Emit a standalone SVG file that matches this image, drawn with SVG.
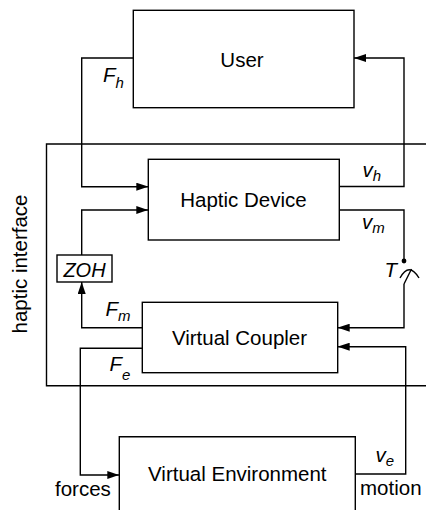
<svg xmlns="http://www.w3.org/2000/svg" width="426" height="510" viewBox="0 0 426 510">
<style>
.box{fill:none;stroke:#000;stroke-width:1.4}
.ln{fill:none;stroke:#000;stroke-width:1.4}
.t{font-family:"Liberation Sans",Arial,sans-serif;font-size:20.5px;fill:#000}
.i{font-family:"Liberation Sans",Arial,sans-serif;font-style:italic;font-size:20.5px;fill:#000}
.s{font-size:15px}
</style>
<defs>
<marker id="ah" markerUnits="userSpaceOnUse" markerWidth="12" markerHeight="8" refX="12" refY="4" orient="auto">
<path d="M0,0 L12,4 L0,8 z" fill="#000"/>
</marker>
</defs>
<rect width="426" height="510" fill="#fff"/>
<g id="haptic-interface">
<path class="box" d="M430,144 H46.5 V385.7 H430"/>
<text class="t" transform="translate(27,264) rotate(-90)" text-anchor="middle">haptic interface</text>
</g>
<g id="user">
<rect class="box" x="133.3" y="10.3" width="220.7" height="97.4"/>
<text class="t" x="242" y="66.7" text-anchor="middle">User</text>
</g>
<g id="haptic-device">
<rect class="box" x="148.3" y="159.3" width="191" height="80.7"/>
<text class="t" x="243.5" y="206.5" text-anchor="middle">Haptic Device</text>
</g>
<g id="zoh">
<rect class="box" x="57" y="255" width="55" height="27"/>
<text class="i" x="84.5" y="276.5" text-anchor="middle" style="font-size:20px">ZOH</text>
</g>
<g id="virtual-coupler">
<rect class="box" x="142.3" y="302.3" width="195.4" height="70.4"/>
<text class="t" x="239.5" y="345" text-anchor="middle">Virtual Coupler</text>
</g>
<g id="virtual-environment">
<path class="box" d="M119.3,515 V436.7 H355.3 V515"/>
<text class="t" x="237.3" y="481" text-anchor="middle">Virtual Environment</text>
</g>
<g id="connectors">
<path class="ln" d="M133.3,58 H81.7 V186.7 H148.3" marker-end="url(#ah)"/>
<path class="ln" d="M339.3,186.5 H404 V58 H354" marker-end="url(#ah)"/>
<path class="ln" d="M339.3,210 H404 V261"/>
<circle cx="404" cy="261" r="2.4" fill="#000"/>
<path class="ln" d="M404,284 L411.5,269"/>
<path class="ln" d="M400,278 Q409,261.5 419,278"/>
<path class="ln" d="M404,284 V327.7 H337.7" marker-end="url(#ah)"/>
<path class="ln" d="M142.3,327.7 H81.7 V282" marker-end="url(#ah)"/>
<path class="ln" d="M81.7,255 V210 H148.3" marker-end="url(#ah)"/>
<path class="ln" d="M142.3,348.3 H80.3 V475 H119.3" marker-end="url(#ah)"/>
<path class="ln" d="M355.3,474 H405.7 V346.7 H337.7" marker-end="url(#ah)"/>
</g>
<g id="labels">
<text class="i" x="103" y="81.5">F<tspan class="s" dy="6">h</tspan></text>
<text class="i" x="362.5" y="176.5">v<tspan class="s" dy="4">h</tspan></text>
<text class="i" x="362" y="228.5">v<tspan class="s" dy="4.5">m</tspan></text>
<text class="i" x="384.5" y="277">T</text>
<text class="i" x="105.5" y="316">F<tspan class="s" dy="4.5">m</tspan></text>
<text class="i" x="109.5" y="370.5">F<tspan class="s" dy="9">e</tspan></text>
<text class="i" x="375.5" y="461.7">v<tspan class="s" dy="4.5">e</tspan></text>
<text class="t" x="55" y="495.5">forces</text>
<text class="t" x="360" y="495">motion</text>
</g>
</svg>
